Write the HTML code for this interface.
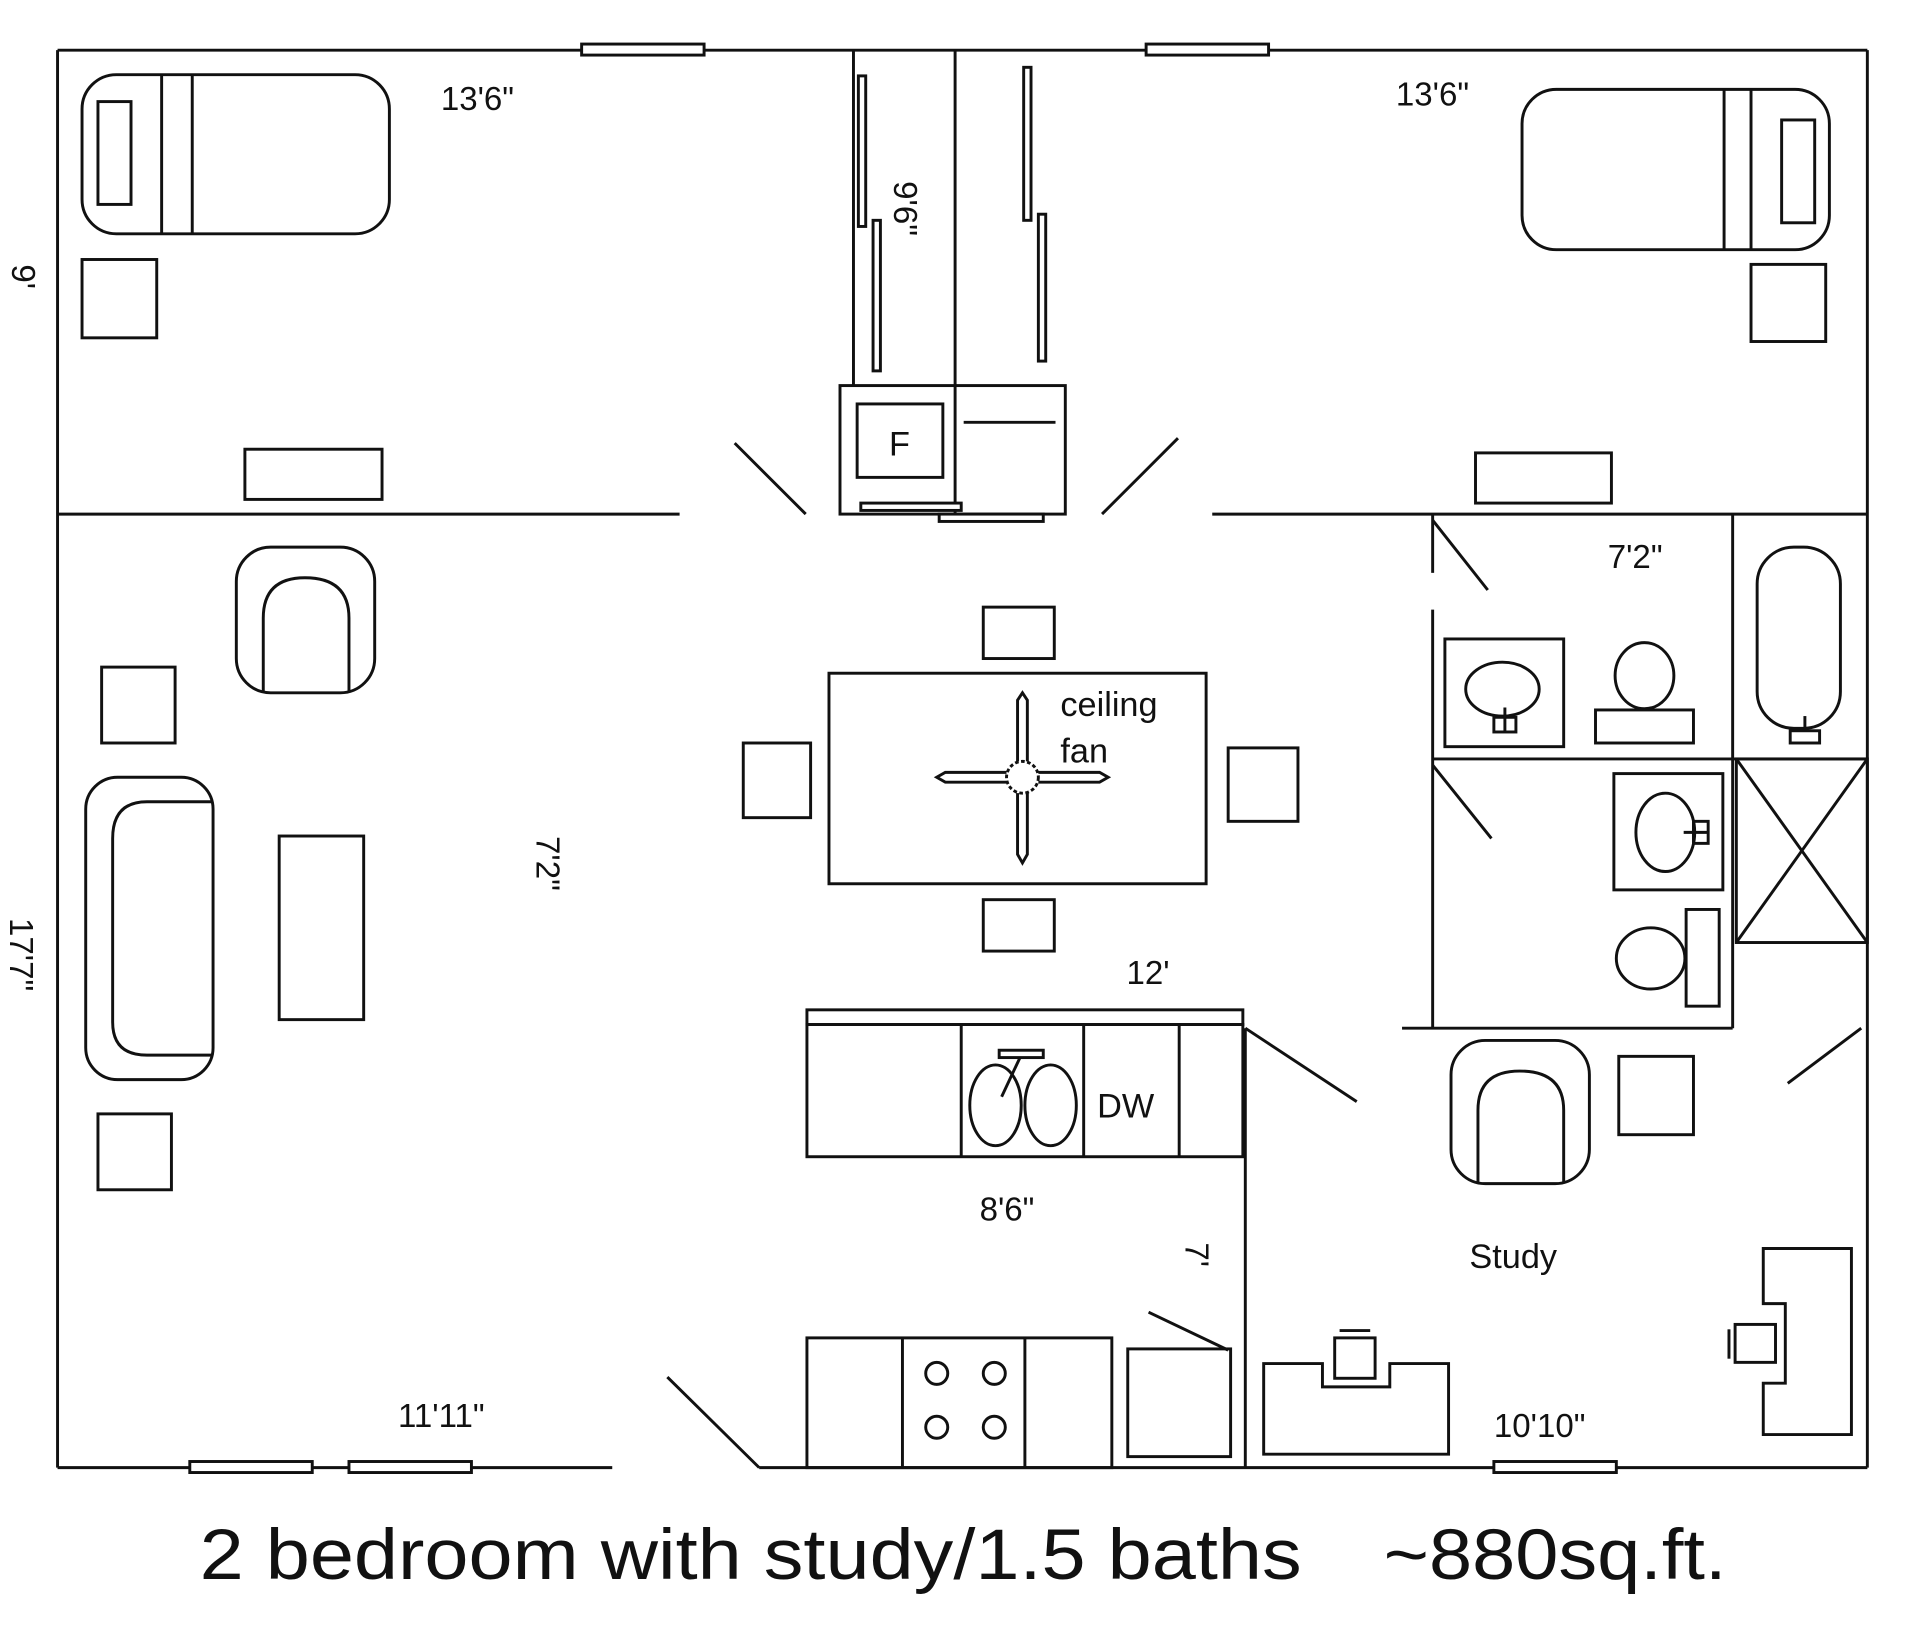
<!DOCTYPE html>
<html><head><meta charset="utf-8"><style>
html,body{margin:0;padding:0;background:#fff;width:1920px;height:1639px;overflow:hidden}
svg{display:block}
text{font-family:"Liberation Sans","DejaVu Sans",sans-serif;fill:#111}
</style></head><body>
<svg width="1920" height="1639" viewBox="0 0 1568 1339" preserveAspectRatio="none" xmlns="http://www.w3.org/2000/svg">
<g fill="none" stroke="#111" stroke-width="2.4">
<line x1="47" y1="41" x2="1525" y2="41"/>
<line x1="47" y1="41" x2="47" y2="1199"/>
<line x1="1525" y1="41" x2="1525" y2="1199"/>
<line x1="47" y1="1199" x2="500" y2="1199"/>
<line x1="620" y1="1199" x2="1525" y2="1199"/>
<line x1="545" y1="1125" x2="620" y2="1199"/>
<rect x="475" y="36" width="100" height="9" fill="#fff"/>
<rect x="936" y="36" width="100" height="9" fill="#fff"/>
<rect x="155" y="1194" width="100" height="9" fill="#fff"/>
<rect x="285" y="1194" width="100" height="9" fill="#fff"/>
<rect x="1220" y="1194" width="100" height="9" fill="#fff"/>
<line x1="47" y1="420" x2="555" y2="420"/>
<line x1="990" y1="420" x2="1525" y2="420"/>
<line x1="697" y1="41" x2="697" y2="315"/>
<line x1="780" y1="41" x2="780" y2="420"/>
<rect x="686" y="315" width="184" height="105"/>
<rect x="700" y="330" width="70" height="60"/>
<line x1="787" y1="345" x2="862" y2="345"/>
<rect x="701" y="62" width="6" height="123"/>
<rect x="713" y="180" width="6" height="123"/>
<rect x="836" y="55" width="6" height="125"/>
<rect x="848" y="175" width="6" height="120"/>
<rect x="703" y="411" width="82" height="6" fill="#fff"/>
<rect x="767" y="420" width="85" height="6" fill="#fff"/>
<line x1="600" y1="362" x2="658" y2="420"/>
<line x1="962" y1="358" x2="900" y2="420"/>
<line x1="1170" y1="420" x2="1170" y2="468"/>
<line x1="1170" y1="425" x2="1215" y2="482"/>
<line x1="1170" y1="498" x2="1170" y2="840"/>
<line x1="1170" y1="620" x2="1525" y2="620"/>
<line x1="1415" y1="420" x2="1415" y2="840"/>
<line x1="1145" y1="840" x2="1415" y2="840"/>
<line x1="1170" y1="625" x2="1218" y2="685"/>
<rect x="1418" y="620" width="107" height="150"/>
<line x1="1418" y1="620" x2="1525" y2="770"/>
<line x1="1525" y1="620" x2="1418" y2="770"/>
<line x1="1017" y1="840" x2="1017" y2="1199"/>
<line x1="1017" y1="840" x2="1108" y2="900"/>
<line x1="1460" y1="885" x2="1520" y2="840"/>
<rect x="67" y="61" width="251" height="130" rx="28"/>
<line x1="132" y1="61" x2="132" y2="191"/><line x1="157" y1="61" x2="157" y2="191"/>
<rect x="80" y="83" width="27" height="84"/>
<rect x="67" y="212" width="61" height="64"/>
<rect x="200" y="367" width="112" height="41"/>
<rect x="1243" y="73" width="251" height="131" rx="28"/>
<line x1="1408" y1="73" x2="1408" y2="204"/><line x1="1430" y1="73" x2="1430" y2="204"/>
<rect x="1455" y="98" width="27" height="84"/>
<rect x="1430" y="216" width="61" height="63"/>
<rect x="1205" y="370" width="111" height="41"/>
<rect x="193" y="447" width="113" height="119" rx="28"/>
<path d="M215 566 V505 Q215 472 249 472 Q285 472 285 505 V566"/>
<rect x="70" y="635" width="104" height="247" rx="26"/>
<path d="M174 655 H120 Q92 655 92 685 V835 Q92 862 120 862 H174"/>
<rect x="228" y="683" width="69" height="150"/>
<rect x="83" y="545" width="60" height="62"/>
<rect x="80" y="910" width="60" height="62"/>
<rect x="677" y="550" width="308" height="172"/>
<rect x="803" y="496" width="58" height="42"/>
<rect x="607" y="607" width="55" height="61"/>
<rect x="1003" y="611" width="57" height="60"/>
<rect x="803" y="735" width="58" height="42"/>
<circle cx="835" cy="635" r="13" stroke-dasharray="3 2"/>
<path d="M831 622 V572 L835 566 L839 572 V622"/>
<path d="M831 648 V698 L835 705 L839 698 V648"/>
<path d="M822 631 H772 L765 635 L772 639 H822"/>
<path d="M848 631 H898 L905 635 L898 639 H848"/>
<rect x="659" y="825" width="356" height="12"/>
<rect x="659" y="837" width="356" height="108"/>
<line x1="785" y1="837" x2="785" y2="945"/>
<line x1="885" y1="837" x2="885" y2="945"/>
<line x1="963" y1="837" x2="963" y2="945"/>
<ellipse cx="813" cy="903" rx="21" ry="33"/>
<ellipse cx="858" cy="903" rx="21" ry="33"/>
<rect x="816" y="858" width="36" height="6"/>
<line x1="833" y1="864" x2="818" y2="896"/>
<rect x="659" y="1093" width="249" height="106"/>
<line x1="737" y1="1093" x2="737" y2="1199"/>
<line x1="837" y1="1093" x2="837" y2="1199"/>
<circle cx="765" cy="1122" r="9"/><circle cx="812" cy="1122" r="9"/>
<circle cx="765" cy="1166" r="9"/><circle cx="812" cy="1166" r="9"/>
<rect x="921" y="1102" width="84" height="88"/>
<line x1="938" y1="1072" x2="1003" y2="1103"/>
<path d="M1032 1114 H1080 V1133 H1135 V1114 H1183 V1188 H1032 Z"/>
<rect x="1090" y="1093" width="33" height="33"/>
<line x1="1094" y1="1087" x2="1119" y2="1087"/>
<path d="M1440 1020 H1512 V1172 H1440 V1130 H1458 V1065 H1440 Z"/>
<rect x="1417" y="1082" width="33" height="31"/>
<line x1="1412" y1="1086" x2="1412" y2="1110"/>
<rect x="1185" y="850" width="113" height="117" rx="28"/>
<path d="M1207 967 V907 Q1207 875 1241 875 Q1277 875 1277 907 V967"/>
<rect x="1322" y="863" width="61" height="64"/>
<rect x="1180" y="522" width="97" height="88"/>
<ellipse cx="1227" cy="563" rx="30" ry="22"/>
<rect x="1220" y="586" width="18" height="12"/><line x1="1229" y1="578" x2="1229" y2="598"/>
<ellipse cx="1343" cy="552" rx="24" ry="27"/>
<rect x="1303" y="580" width="80" height="27"/>
<rect x="1435" y="447" width="68" height="148" rx="30"/>
<rect x="1462" y="597" width="24" height="10"/><line x1="1474" y1="585" x2="1474" y2="597"/>
<rect x="1318" y="632" width="89" height="95"/>
<ellipse cx="1360" cy="680" rx="24" ry="32"/>
<rect x="1383" y="671" width="12" height="18"/><line x1="1375" y1="680" x2="1395" y2="680"/>
<ellipse cx="1348" cy="783" rx="28" ry="25"/>
<rect x="1377" y="743" width="27" height="79"/>
</g>
<text x="360" y="90" font-size="27">13'6"</text>
<text x="1140" y="86" font-size="27">13'6"</text>
<text x="1313" y="464" font-size="27">7'2"</text>
<text x="920" y="804" font-size="27">12'</text>
<text x="800" y="997" font-size="27">8'6"</text>
<text x="325" y="1166" font-size="27">11'11"</text>
<text x="1220" y="1174" font-size="27">10'10"</text>
<text x="1200" y="1036" font-size="28">Study</text>
<text x="896" y="913" font-size="28">DW</text>
<text x="726" y="372" font-size="28">F</text>
<text x="866" y="585" font-size="28">ceiling</text>
<text x="866" y="623" font-size="28">fan</text>
<text transform="translate(730,148) rotate(90)" font-size="27">9'6"</text>
<text transform="translate(438,683) rotate(90)" font-size="27">7'2"</text>
<text transform="translate(8,750) rotate(90)" font-size="27">17'7"</text>
<text transform="translate(10,216) rotate(90)" font-size="27">9'</text>
<text transform="translate(968,1015) rotate(90)" font-size="27">7'</text>
<text x="163" y="1290" font-size="58" textLength="900" lengthAdjust="spacingAndGlyphs">2 bedroom with study/1.5 baths</text>
<text x="1130" y="1290" font-size="58" textLength="280" lengthAdjust="spacingAndGlyphs">~880sq.ft.</text>
</svg>
</body></html>
